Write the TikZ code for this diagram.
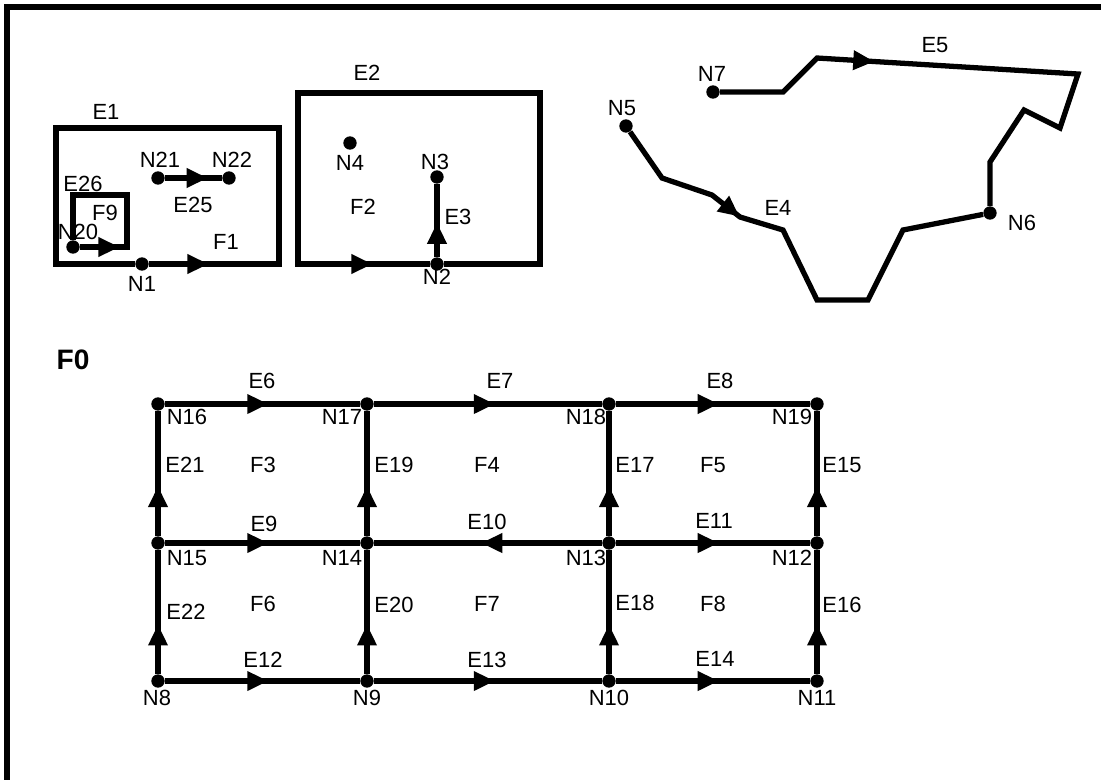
\documentclass[tikz,border=0pt]{standalone}
\usepackage{fontspec}
\setmainfont{Liberation Sans}
\usetikzlibrary{arrows.meta,decorations.markings}

\begin{document}
\begin{tikzpicture}[x=0.02cm,y=-0.02cm,
    dot/.style={circle,fill,inner sep=0pt,minimum size=7.6pt},
    lbl/.style={inner sep=0pt,font=\fontsize{12.5}{14}\selectfont},
    edge/.style={line width=3pt,line join=miter},
    arr/.style={postaction={decorate,decoration={markings,
        mark=at position #1 with {\arrow{Triangle[length=12pt,width=10.5pt]}}}}}]
    \useasboundingbox (0,0) rectangle (1101,779);
    \draw[line width=3pt] (7,7) rectangle (1130,810);
    % upper left: E1 with the small loop E26
    \node[dot] (n1) at (142,264) {};
    \node[dot] (n20) at (73,247) {};
    \node[dot] (n21) at (158,178) {};
    \node[dot] (n22) at (229,178) {};
    \draw[edge,arr=1.19cm] (n1) -- (279,264) -- (279,128) -- (56,128) -- (56,264) -- (n1);
    \draw[edge,arr=0.79cm] (n20) -- (127,247) -- (127,195) -- (73,195) -- (n20);
    \draw[edge,arr=0.75] (n21) -- (n22);
    \node[lbl] (le1) at (106,112) {E1};
    \node[lbl] (lf1) at (226,242) {F1};
    \node[lbl] (ln1) at (142,284) {N1};
    \node[lbl] (ln21) at (160,160) {N21};
    \node[lbl] (ln22) at (232,160) {N22};
    \node[lbl] (le25) at (193,205) {E25};
    \node[lbl] (le26) at (83,184) {E26};
    \node[lbl] (lf9) at (105,213) {F9};
    \node[lbl] (ln20) at (78,232) {N20};
    % E2 and E3
    \node[dot] (n2) at (437,264) {};
    \node[dot] (n3) at (437,177) {};
    \node[dot] (n4) at (350,143) {};
    \draw[edge,arr=-1.15cm] (n2) -- (540,264) -- (540,93) -- (298,93) -- (298,264) -- (n2);
    \draw[edge,arr=0.47] (n2) -- (n3);
    \node[lbl] (le2) at (367,73) {E2};
    \node[lbl] (ln4) at (350,163) {N4};
    \node[lbl] (ln3) at (435,162) {N3};
    \node[lbl] (lf2) at (363,207) {F2};
    \node[lbl] (le3) at (458,217) {E3};
    \node[lbl] (ln2) at (437,277) {N2};
    % upper right: E4 and E5 end in N6
    \node[dot] (n5) at (626,126) {};
    \node[dot] (n6) at (990,213) {};
    \node[dot] (n7) at (713,92) {};
    \draw[edge,arr=2.88cm] (n5) -- (662,178) -- (712,195) -- (740,217) -- (783,230)
        -- (817,300) -- (868,300) -- (903,230) -- (n6);
    \draw[edge,arr=3.37cm] (n7) -- (783,92) -- (817,58) -- (1078,74) -- (1060,128)
        -- (1024,110) -- (990,162) -- (n6);
    \node[lbl] (ln5) at (622,108) {N5};
    \node[lbl] (ln7) at (712,74) {N7};
    \node[lbl] (le4) at (778,208) {E4};
    \node[lbl] (le5) at (935,45) {E5};
    \node[lbl] (ln6) at (1022,223) {N6};
    % grid
    \node[inner sep=0pt,font=\fontsize{16}{18}\selectfont\bfseries] (lf0) at (73,360) {F0};
    \node[dot] (n16) at (158,404) {};
    \node[dot] (n17) at (367,404) {};
    \node[dot] (n18) at (609,404) {};
    \node[dot] (n19) at (817,404) {};
    \node[dot] (n15) at (158,543) {};
    \node[dot] (n14) at (367,543) {};
    \node[dot] (n13) at (609,543) {};
    \node[dot] (n12) at (817,543) {};
    \node[dot] (n8) at (158,681) {};
    \node[dot] (n9) at (367,681) {};
    \node[dot] (n10) at (609,681) {};
    \node[dot] (n11) at (817,681) {};
    \draw[edge,arr=0.53] (n16) -- (n17);
    \draw[edge,arr=0.53] (n17) -- (n18);
    \draw[edge,arr=0.53] (n18) -- (n19);
    \draw[edge,arr=0.53] (n15) -- (n14);
    \draw[edge,arr=0.53] (n13) -- (n14);
    \draw[edge,arr=0.53] (n13) -- (n12);
    \draw[edge,arr=0.53] (n8) -- (n9);
    \draw[edge,arr=0.53] (n9) -- (n10);
    \draw[edge,arr=0.53] (n10) -- (n11);
    \draw[edge,arr=0.4] (n15) -- (n16);
    \draw[edge,arr=0.4] (n8) -- (n15);
    \draw[edge,arr=0.4] (n14) -- (n17);
    \draw[edge,arr=0.4] (n9) -- (n14);
    \draw[edge,arr=0.4] (n13) -- (n18);
    \draw[edge,arr=0.4] (n10) -- (n13);
    \draw[edge,arr=0.4] (n12) -- (n19);
    \draw[edge,arr=0.4] (n11) -- (n12);
    \node[lbl] (ln16) at (187,417) {N16};
    \node[lbl] (ln17) at (342,417) {N17};
    \node[lbl] (ln18) at (586,417) {N18};
    \node[lbl] (ln19) at (792,417) {N19};
    \node[lbl] (ln15) at (187,558) {N15};
    \node[lbl] (ln14) at (342,558) {N14};
    \node[lbl] (ln13) at (586,558) {N13};
    \node[lbl] (ln12) at (792,558) {N12};
    \node[lbl] (ln8) at (157,698) {N8};
    \node[lbl] (ln9) at (367,698) {N9};
    \node[lbl] (ln10) at (609,698) {N10};
    \node[lbl] (ln11) at (817,698) {N11};
    \node[lbl] (le6) at (262,381) {E6};
    \node[lbl] (le7) at (500,381) {E7};
    \node[lbl] (le8) at (720,381) {E8};
    \node[lbl] (le9) at (264,524) {E9};
    \node[lbl] (le10) at (487,522) {E10};
    \node[lbl] (le11) at (714,521) {E11};
    \node[lbl] (le12) at (263,660) {E12};
    \node[lbl] (le13) at (487,660) {E13};
    \node[lbl] (le14) at (715,659) {E14};
    \node[lbl] (le21) at (185,465) {E21};
    \node[lbl] (le19) at (394,465) {E19};
    \node[lbl] (le17) at (635,465) {E17};
    \node[lbl] (le15) at (842,465) {E15};
    \node[lbl] (le22) at (186,612) {E22};
    \node[lbl] (le20) at (394,605) {E20};
    \node[lbl] (le18) at (635,603) {E18};
    \node[lbl] (le16) at (842,605) {E16};
    \node[lbl] (lf3) at (263,465) {F3};
    \node[lbl] (lf4) at (487,465) {F4};
    \node[lbl] (lf5) at (713,465) {F5};
    \node[lbl] (lf6) at (263,604) {F6};
    \node[lbl] (lf7) at (487,604) {F7};
    \node[lbl] (lf8) at (713,604) {F8};
\end{tikzpicture}
\end{document}
